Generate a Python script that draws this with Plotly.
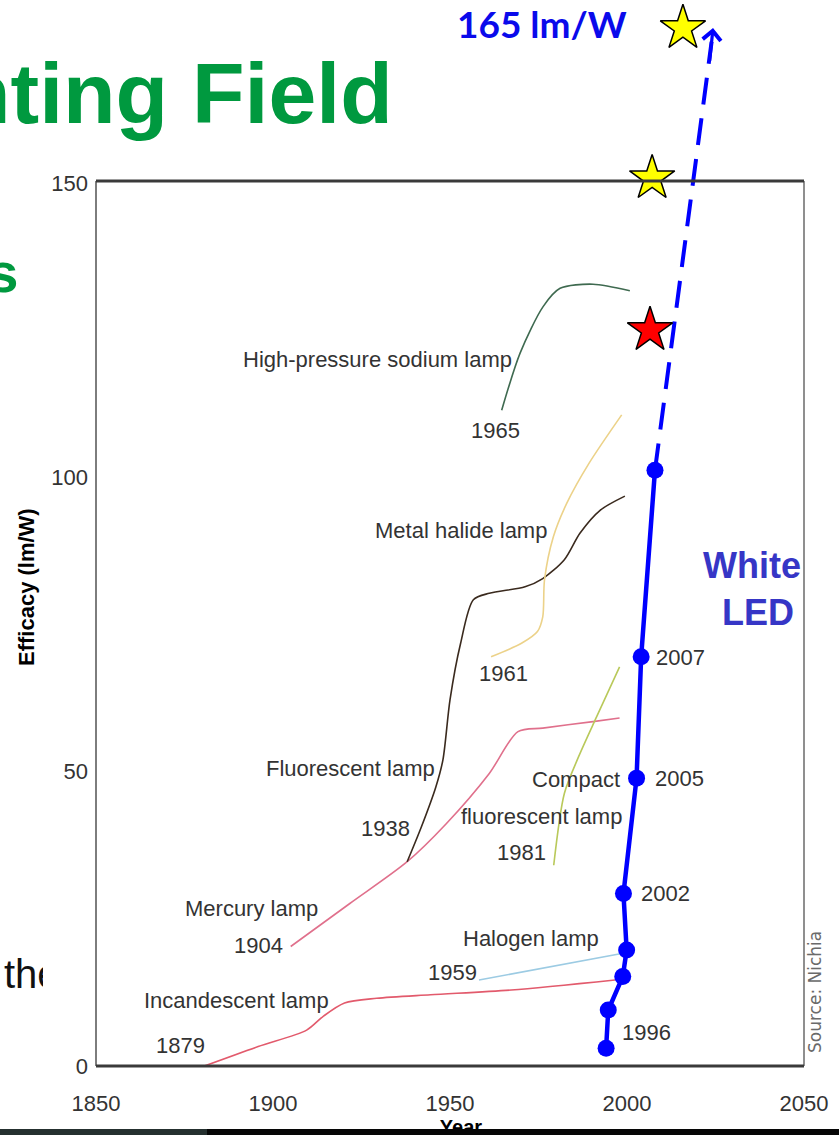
import plotly.graph_objects as go

# ---------------- data ----------------
incandescent_year = [1880.6, 1895.8, 1909.5, 1914.1, 1920.2, 1929.3, 1944.5, 1967.3, 1996.6]
incandescent_eff = [0.0, 3.3, 6.1, 8.4, 10.7, 11.5, 12.1, 12.9, 14.6]

halogen_year = [1958.2, 1998.5]
halogen_eff = [14.6, 19.1]

mercury_year = [1905.0, 1921.7, 1937.9, 1949.0, 1961.1, 1969.2, 1976.2, 1990.4, 1997.9]
mercury_eff = [20.3, 27.6, 34.7, 41.2, 49.7, 56.8, 57.4, 58.5, 59.1]

fluorescent_year = [1937.9, 1941.9, 1946.0, 1948.0, 1950.0, 1953.0, 1956.6, 1961.1,
                    1971.2, 1976.2, 1982.3, 1986.7, 1992.4, 1999.4]
fluorescent_eff = [34.7, 40.6, 47.4, 52.0, 62.2, 71.8, 79.2, 80.3,
                   81.4, 82.8, 86.0, 90.5, 94.4, 96.8]

metal_halide_year = [1961.6, 1970.2, 1974.7, 1976.2, 1976.7, 1979.2, 1983.0, 1989.3, 1998.5]
metal_halide_eff = [69.5, 71.8, 73.8, 76.3, 82.6, 89.9, 95.6, 102.4, 110.6]

cfl_year = [1979.3, 1982.3, 1986.3, 1991.4, 1997.9]
cfl_eff = [34.1, 46.3, 52.5, 59.3, 67.8]

hps_year = [1964.6, 1969.8, 1976.3, 1981.1, 1990.4, 2000.8]
hps_eff = [111.4, 121.1, 129.0, 132.1, 132.8, 131.7]

led_year = [1994.1, 1994.7, 1998.8, 1999.9, 1999.0, 2002.7, 2004.0, 2007.9]
led_eff = [3.0, 9.5, 15.2, 19.7, 29.3, 48.9, 69.5, 101.2]

projection_year = [2007.9, 2023.9]
projection_eff = [101.2, 174.0]
arrow_tip = (2024.3, 176.3)

yellow_star_year = [2015.8, 2007.1]
yellow_star_eff = [176.3, 150.8]
red_star_year = [2006.5]
red_star_eff = [125.0]

x_tickvals = [1850, 1900, 1950, 2000, 2050]
x_ticktext = ["1850", "1900", "1950", "2000", "2050"]
y_tickvals = [0, 50, 100, 150]
y_ticktext = ["0", "50", "100", "150"]

# ---------------- layout calibration ----------------
W, H = 839, 1135
X0_PX, X_PER_YR = 96, 3.54      # pixel of year 1850, pixels per year
Y0_PX, Y_PER_UNIT = 1066, 5.887  # pixel of 0 lm/W, pixels per lm/W
x_range = [1850 - X0_PX / X_PER_YR, 1850 + (W - X0_PX) / X_PER_YR]
y_range = [-(H - Y0_PX) / Y_PER_UNIT, Y0_PX / Y_PER_UNIT]


def px_x(px):
    return 1850 + (px - X0_PX) / X_PER_YR


def px_y(py):
    return (Y0_PX - py) / Y_PER_UNIT


SANS = "Liberation Sans, Arial, sans-serif"
LABEL_FONT = dict(family=SANS, size=22, color="#333333")

fig = go.Figure()


def lamp(xs, ys, color, width=1.6):
    fig.add_trace(go.Scatter(x=xs, y=ys, mode="lines",
                             line=dict(color=color, width=width, shape="spline", smoothing=0.8),
                             hoverinfo="skip", showlegend=False))


lamp(incandescent_year, incandescent_eff, "#e25a6c")
lamp(halogen_year, halogen_eff, "#9ccbe3")
lamp(mercury_year, mercury_eff, "#e0708c")
lamp(fluorescent_year, fluorescent_eff, "#3a2a1e")
lamp(metal_halide_year, metal_halide_eff, "#ecd289")
lamp(cfl_year, cfl_eff, "#b9c95a")
lamp(hps_year, hps_eff, "#3f6a50")

# projection (dashed)
fig.add_trace(go.Scatter(x=projection_year, y=projection_eff, mode="lines",
                         line=dict(color="#0000ff", width=4, dash="27px,14px"),
                         hoverinfo="skip", showlegend=False))
# white LED
fig.add_trace(go.Scatter(x=led_year, y=led_eff, mode="lines+markers",
                         line=dict(color="#0000ff", width=4.5),
                         marker=dict(color="#0000ff", size=17),
                         hoverinfo="skip", showlegend=False))
# stars
fig.add_trace(go.Scatter(x=yellow_star_year, y=yellow_star_eff, mode="markers",
                         marker=dict(symbol="star", size=34, color="#ffff00",
                                     line=dict(color="#000000", width=1.5)),
                         hoverinfo="skip", showlegend=False))
fig.add_trace(go.Scatter(x=red_star_year, y=red_star_eff, mode="markers",
                         marker=dict(symbol="star", size=34, color="#ff0000",
                                     line=dict(color="#000000", width=1.5)),
                         hoverinfo="skip", showlegend=False))

# slide text behind the chart (drawn as trace text so shapes can cover it)
fig.add_trace(go.Scatter(x=[px_x(4)], y=[px_y(978)], mode="text", text=["the"],
                         textposition="middle right",
                         textfont=dict(family="Liberation Sans, Arial", size=40, color="#111111"),
                         hoverinfo="skip", showlegend=False))
fig.add_trace(go.Scatter(x=[px_x(461)], y=[px_y(1129)], mode="text", text=["<b>Year</b>"],
                         textposition="middle center",
                         textfont=dict(family="Liberation Sans, Arial", size=20, color="#000000"),
                         hoverinfo="skip", showlegend=False))

shapes = []
# chart frame
shapes.append(dict(type="line", xref="x", yref="y", x0=1850, x1=1850, y0=0, y1=px_y(181),
                   line=dict(color="#7d7d7d", width=2)))
shapes.append(dict(type="line", xref="x", yref="y", x0=2050, x1=2050, y0=0, y1=px_y(181),
                   line=dict(color="#6a6a6a", width=1.5)))
shapes.append(dict(type="line", xref="x", yref="y", x0=1850, x1=2050, y0=px_y(181), y1=px_y(181),
                   line=dict(color="#3a3a3a", width=3)))
shapes.append(dict(type="line", xref="x", yref="y", x0=1850, x1=2050, y0=0, y1=0,
                   line=dict(color="#3a3a3a", width=3)))
# chart picture edge covering the slide text
shapes.append(dict(type="rect", xref="paper", yref="paper", layer="above",
                   x0=43 / W, x1=90 / W, y0=1 - 1005 / H, y1=1 - 950 / H,
                   line=dict(width=0), fillcolor="#ffffff"))
# dark band at the bottom of the slide
shapes.append(dict(type="rect", xref="paper", yref="paper", layer="above",
                   x0=0, x1=207 / W, y0=0, y1=1 - 1129 / H,
                   line=dict(width=0), fillcolor="#25302f"))
shapes.append(dict(type="rect", xref="paper", yref="paper", layer="above",
                   x0=207 / W, x1=1, y0=0, y1=1 - 1129 / H,
                   line=dict(width=0), fillcolor="#060606"))

annotations = []


def lab(text, x, y, xanchor="center", font=None, **kw):
    annotations.append(dict(text=text, x=x, y=y, xref="x", yref="y", xanchor=xanchor,
                            yanchor="middle", showarrow=False, font=font or LABEL_FONT, **kw))


lab("High-pressure sodium lamp", px_x(377), px_y(359))
lab("1965", px_x(495), px_y(430))
lab("Metal halide lamp", px_x(461), px_y(530))
lab("1961", px_x(503), px_y(673))
lab("Fluorescent lamp", px_x(350), px_y(768))
lab("1938", px_x(385), px_y(828))
lab("Compact", px_x(576), px_y(779))
lab("fluorescent lamp", px_x(541), px_y(816))
lab("1981", px_x(521.5), px_y(852))
lab("Mercury lamp", px_x(251.6), px_y(908))
lab("1904", px_x(258), px_y(945))
lab("Halogen lamp", px_x(531), px_y(938))
lab("1959", px_x(452), px_y(972))
lab("Incandescent lamp", px_x(236.8), px_y(1000))
lab("1879", px_x(180), px_y(1045))
lab("2007", px_x(654), px_y(657), xanchor="left")
lab("2005", px_x(653), px_y(778), xanchor="left")
lab("2002", px_x(639), px_y(893), xanchor="left")
lab("1996", px_x(620), px_y(1032), xanchor="left")

led_font = dict(family=SANS, size=36, color="#3636c6", weight="bold")
lab("White", px_x(752), px_y(565), font=led_font)
lab("LED", px_x(758), px_y(612), font=led_font)

annotations.append(dict(text="165 lm/W", x=455 / W, y=1 - 24 / H, xref="paper", yref="paper",
                        xanchor="left", yanchor="middle", showarrow=False,
                        font=dict(family="Lato, Open Sans, sans-serif", size=37,
                                  color="#0a0aeb", weight="bold")))
annotations.append(dict(text="Lighting Field", x=395 / W, y=1 - 93 / H, xref="paper", yref="paper",
                        xanchor="right", yanchor="middle", showarrow=False,
                        font=dict(family=SANS, size=86, color="#00993f", weight="bold")))
annotations.append(dict(text="Lamps", x=21 / W, y=1 - 272 / H, xref="paper", yref="paper",
                        xanchor="right", yanchor="middle", showarrow=False,
                        font=dict(family=SANS, size=56, color="#00993f", weight="bold")))
annotations.append(dict(text="Efficacy (lm/W)", x=26 / W, y=1 - 587 / H, xref="paper", yref="paper",
                        xanchor="center", yanchor="middle", textangle=-90, showarrow=False,
                        font=dict(family=SANS, size=22, color="#000000", weight="bold")))
annotations.append(dict(text="Source: Nichia", x=815 / W, y=1 - 992 / H, xref="paper", yref="paper",
                        xanchor="center", yanchor="middle", textangle=-90, showarrow=False,
                        font=dict(family="DejaVu Sans, Verdana, sans-serif", size=17,
                                  color="#6a6a6a")))
# arrow head of projection
annotations.append(dict(text="", x=arrow_tip[0], y=arrow_tip[1], xref="x", yref="y",
                        ax=projection_year[1] - 0.6, ay=projection_eff[1] - 3.5,
                        axref="x", ayref="y", showarrow=True, arrowhead=4, arrowsize=1.1,
                        arrowwidth=3.2, arrowcolor="#0000ff", standoff=0, startstandoff=0))

tick_font = dict(family=SANS, size=22, color="#333333")
fig.update_layout(
    width=W, height=H, margin=dict(l=0, r=0, t=0, b=0),
    paper_bgcolor="#ffffff", plot_bgcolor="#ffffff",
    showlegend=False, shapes=shapes, annotations=annotations,
    xaxis=dict(range=x_range, domain=[0, 1], anchor="free", position=1 - Y0_PX / H,
               tickvals=x_tickvals, ticktext=x_ticktext, showgrid=False, zeroline=False,
               showline=False, ticks="", ticklabelstandoff=22, fixedrange=True,
               tickfont=tick_font),
    yaxis=dict(range=y_range, domain=[0, 1], anchor="free", position=X0_PX / W,
               tickvals=y_tickvals, ticktext=y_ticktext, showgrid=False, zeroline=False,
               showline=False, ticks="", ticklabelstandoff=8, fixedrange=True,
               tickfont=tick_font),
)

fig.write_html("out.html", config={"displayModeBar": False})
